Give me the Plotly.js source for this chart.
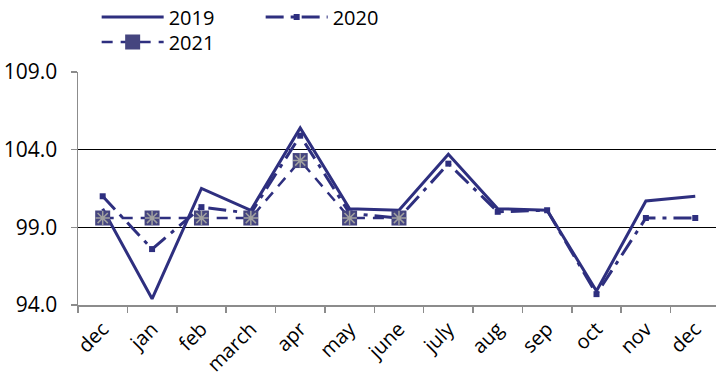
<!DOCTYPE html>
<html>
<head>
<meta charset="utf-8">
<script src="https://cdn.plot.ly/plotly-3.0.1.min.js"></script>
<style>html,body{margin:0;padding:0;background:#fff;}#chart{width:716px;height:376px;}</style>
</head>
<body>
<div id="chart"></div>
<script>
const months = ["dec","jan","feb","march","apr","may","june","july","aug","sep","oct","nov","dec"];
const idx = [0,1,2,3,4,5,6,7,8,9,10,11,12];
const v2019 = [100.2, 94.4, 101.5, 100.1, 105.4, 100.2, 100.1, 103.7, 100.2, 100.1, 94.9, 100.7, 101.0];
const v2020 = [101.0, 97.6, 100.3, 99.9, 104.9, 99.9, 99.6, 103.1, 100.0, 100.1, 94.7, 99.6, 99.6];
const v2021 = [99.6, 99.6, 99.6, 99.6, 103.3, 99.6, 99.6];
const yTicks = [94, 99, 104, 109];
const yGrid = [99, 104];

const navy = '#2E2F7F';
const font = {family: 'Open Sans, sans-serif', size: 20, color: '#000'};
const yTickFont = {family: 'Open Sans, sans-serif', size: 21, color: '#000'};
const xTickFont = {family: 'Open Sans, sans-serif', size: 20, color: '#000'};

const traces = [
  {x: idx, y: v2019, name: '2019', type: 'scatter', mode: 'lines', legend: 'legend',
   line: {color: navy, width: 3}},
  {x: idx, y: v2020, name: '2020', type: 'scatter', mode: 'lines+markers', legend: 'legend',
   line: {color: navy, width: 3, dash: '18px,7px,4px,7px'},
   marker: {symbol: 'square', size: 6, color: navy}},
  {x: idx.slice(0, v2021.length), y: v2021, name: '2021', type: 'scatter', mode: 'lines+markers', legend: 'legend2',
   line: {color: navy, width: 2.5, dash: '11px,8px'},
   marker: {symbol: 'square', size: 15, color: '#45457F', line: {color: '#45457F', width: 0}}},
  {x: idx.slice(0, v2021.length), y: v2021, name: '2021', type: 'scatter', mode: 'markers',
   showlegend: false, hoverinfo: 'skip',
   marker: {symbol: 'asterisk-open', size: 12, color: '#A0A0A0', line: {color: '#A0A0A0', width: 1.5}}}
];

const legendBase = {orientation: 'h', xref: 'container', yref: 'container',
  xanchor: 'left', yanchor: 'middle', itemwidth: 62, font: font,
  bgcolor: 'rgba(0,0,0,0)', borderwidth: 0};

const layout = {
  width: 716, height: 376,
  margin: {l: 78, r: 0, t: 72, b: 71},
  paper_bgcolor: '#fff', plot_bgcolor: '#fff',
  font: font,
  showlegend: true,
  legend: Object.assign({}, legendBase, {x: 0.135, y: 1 - 17/376, entrywidth: 87, entrywidthmode: 'pixels'}),
  legend2: Object.assign({}, legendBase, {x: 0.135, y: 1 - 42/376}),
  xaxis: {
    range: [-0.5, 12.42], tickmode: 'array', tickvals: idx, ticktext: months,
    ticks: '', tickangle: -45, showgrid: false, zeroline: false,
    showline: true, linecolor: '#8C8C8C', linewidth: 1.5,
    tickfont: xTickFont, ticklabelstandoff: 3, fixedrange: true,
    minor: {tick0: -0.5, dtick: 1, ticks: 'outside', ticklen: 6, tickcolor: '#8C8C8C', tickwidth: 1.5, showgrid: false}
  },
  yaxis: {
    range: [94, 109], tickmode: 'array', tickvals: yTicks,
    ticktext: yTicks.map(v => v.toFixed(1)),
    ticks: 'outside', ticklen: 6, tickcolor: '#8C8C8C', tickwidth: 1.5,
    showgrid: false, zeroline: false, showline: true, linecolor: '#8C8C8C', linewidth: 1.5,
    tickfont: yTickFont, ticklabelstandoff: 9, fixedrange: true,
    minor: {tickmode: 'array', tickvals: yGrid, ticks: '', showgrid: true, gridcolor: '#000', gridwidth: 1.5}
  }
};

Plotly.newPlot('chart', traces, layout, {displayModeBar: false, staticPlot: true});
</script>
</body>
</html>
